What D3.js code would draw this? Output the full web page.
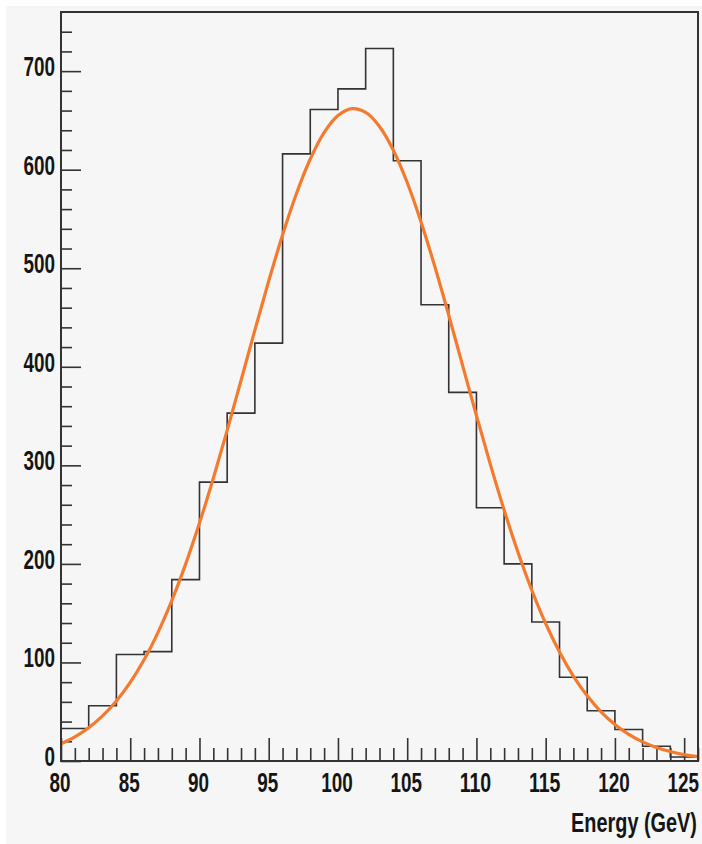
<!DOCTYPE html>
<html>
<head>
<meta charset="utf-8">
<script src="https://cdn.jsdelivr.net/npm/d3@7/dist/d3.min.js"></script>
<style>
  html, body { margin: 0; padding: 0; background: #ffffff; }
  svg { display: block; }
  .lbl { font-family: "Liberation Sans", Arial, sans-serif; font-weight: bold; fill: #151515; }
</style>
</head>
<body>
<svg id="chart" width="702" height="844"></svg>
<script>
// ---- data ----
const binEdges = [80,82,84,86,88,90,92,94,96,98,100,102,104,106,108,110,112,114,116,118,120,122,124,126];
const binCounts = [33,56,108,111,184,283,353,424,616,661,682,723,609,463,374,257,200,141,85,51,32,15,4];
const fitX = [80,81,82,83,84,85,86,87,88,89,90,91,92,93,94,95,96,97,98,99,100,101,102,103,104,105,106,107,108,109,110,111,112,113,114,115,116,117,118,119,120,121,122,123,124,125,126];
const fitY = [17.5,24.5,33.7,45.7,60.8,79.7,102.7,130.3,162.7,199.8,241.4,286.9,335.5,386.1,437.2,487.0,533.8,575.6,610.8,637.6,654.9,661.9,658.1,643.9,619.8,587.0,546.9,501.5,452.3,401.4,350.6,301.2,254.6,211.8,173.3,139.5,110.6,86.2,66.1,49.9,37.0,27.0,19.4,13.7,9.6,6.5,4.4];
const xMajorTicks = [80,85,90,95,100,105,110,115,120,125];
const yMajorTicks = [0,100,200,300,400,500,600,700];
const xTitle = "Energy (GeV)";

// ---- layout ----
const svg = d3.select("#chart");
const L = 61, R = 698, T = 12, B = 761;
svg.append("rect").attr("x", 6).attr("y", 6).attr("width", 696).attr("height", 838).attr("fill", "#f6f6f6");

const x = d3.scaleLinear().domain([80, 126]).range([L, R]);
const y = d3.scaleLinear().domain([0, 760]).range([B, T]);

// histogram path
const histPts = [];
binCounts.forEach((c, i) => {
  histPts.push([binEdges[i], c]);
  histPts.push([binEdges[i + 1], c]);
});
const histLine = d3.line().x(d => x(d[0])).y(d => y(d[1]));
svg.append("path")
  .attr("d", histLine([[80, 0]].concat(histPts)))
  .attr("fill", "none").attr("stroke", "#333").attr("stroke-width", 1.6);

// axes
const xMinor = d3.range(80, 127, 1).filter(v => !xMajorTicks.includes(v));
const yMinor = d3.range(0, 741, 20).filter(v => !yMajorTicks.includes(v));

const xAxisMajor = d3.axisTop(x).tickValues(xMajorTicks).tickSize(23).tickFormat("");
const xAxisMinor = d3.axisTop(x).tickValues(xMinor).tickSize(13).tickFormat("");
const yAxisMajor = d3.axisRight(y).tickValues(yMajorTicks).tickSize(20).tickFormat("");
const yAxisMinor = d3.axisRight(y).tickValues(yMinor).tickSize(11).tickFormat("");

function styleAxis(g) {
  g.select(".domain").remove();
  g.selectAll("line").attr("stroke", "#333").attr("stroke-width", 1.6);
}
svg.append("g").attr("transform", `translate(0,${B})`).call(xAxisMajor).call(styleAxis);
svg.append("g").attr("transform", `translate(0,${B})`).call(xAxisMinor).call(styleAxis);
svg.append("g").attr("transform", `translate(${L},0)`).call(yAxisMajor).call(styleAxis);
svg.append("g").attr("transform", `translate(${L},0)`).call(yAxisMinor).call(styleAxis);

// fit curve
const fitLine = d3.line().x((d, i) => x(fitX[i])).y(d => y(d)).curve(d3.curveCatmullRom);
svg.append("path")
  .attr("d", fitLine(fitY))
  .attr("fill", "none").attr("stroke", "#f47a2e").attr("stroke-width", 3.2)
  .attr("stroke-linejoin", "round");

// frame
svg.append("rect").attr("x", L).attr("y", T).attr("width", R - L).attr("height", B - T)
  .attr("fill", "none").attr("stroke", "#333").attr("stroke-width", 2);

// narrow label helper: horizontally condense text to a target width using a transform
function narrowText(px, py, str, targetW, anchor) {
  const g = svg.append("g");
  const t = g.append("text").attr("class", "lbl").attr("font-size", 27)
    .attr("text-anchor", anchor).text(str);
  const natural = t.node().getComputedTextLength();
  const sx = targetW / natural;
  g.attr("transform", `translate(${px},${py}) scale(${sx},1)`);
}
const digitW = 10.5;
xMajorTicks.forEach(d => narrowText(x(d) - 1, 792, String(d), String(d).length * digitW, "middle"));
yMajorTicks.forEach(d => narrowText(55, y(d) + 5, String(d), String(d).length * digitW, "end"));
narrowText(697, 832, xTitle, 126, "end");
</script>
</body>
</html>
